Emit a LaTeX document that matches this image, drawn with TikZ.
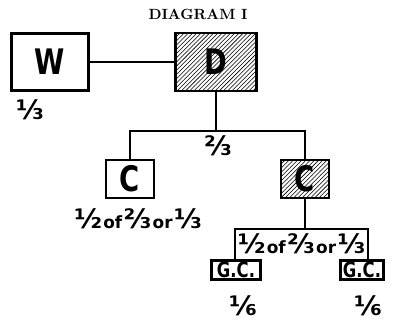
\documentclass[tikz,border=0pt]{standalone}
\usepackage{fontspec}
\setsansfont{DejaVu Sans}
\newfontfamily\narrowsans{DejaVu Sans}[FakeStretch=0.78]
\usepackage{tikz}
\usetikzlibrary{patterns, positioning, calc}
\newcommand{\fr}[1]{{\fontsize{19}{19}\selectfont #1}}
\newcommand{\fword}[1]{\hspace{1pt}{\fontsize{12}{12}\selectfont #1}\hspace{1pt}}

\begin{document}
\begin{tikzpicture}[x=0.025cm, y=-0.025cm,
  box/.style={rectangle, draw, line width=2pt, inner sep=0pt, font=\narrowsans\bfseries\fontsize{25}{25}\selectfont},
  hatched/.style={box, pattern=north east lines},
  frac/.style={inner sep=0pt, font=\sffamily\bfseries\fontsize{19}{19}\selectfont},
  gc/.style={box, minimum height=0.475cm, font=\narrowsans\bfseries\fontsize{15}{15}\selectfont},
  link/.style={line width=1.2pt}
]
  \useasboundingbox (0,0) rectangle (399,327);
  \node[font=\bfseries\fontsize{10.5}{10.5}\selectfont] (title) at (198,14) {DIAGRAM I};

  \node[box, minimum width=1.925cm, minimum height=1.425cm] (wife) at (50,62) {W};
  \node[hatched, minimum width=2.025cm, minimum height=1.45cm] (dec) at (216,62) {D};
  \node[frac] (wfrac) at (30,110) {⅓};

  \node[box, minimum width=1.2cm, minimum height=0.95cm] (child) at (130,179) {C};
  \node[hatched, minimum width=1.2cm, minimum height=0.95cm] (dchild) at (305,179) {C};
  \node[frac] (cfrac) at (218,146) {⅔};
  \node[frac] (childfrac) at (138,219) {\fr{½}\fword{of}\fr{⅔}\fword{or}\fr{⅓}};

  \node[frac, minimum width=3.325cm, minimum height=0.75cm] (split) at (301.5,244) {\fr{½}\fword{of}\fr{⅔}\fword{or}\fr{⅓}};
  \node[gc, minimum width=1.225cm, anchor=north] (gc1) at (236,259) {G.C.};
  \node[gc, minimum width=1.075cm, anchor=north] (gc2) at (362,259) {G.C.};
  \node[frac] (gfrac1) at (243,306) {⅙};
  \node[frac] (gfrac2) at (368,306) {⅙};

  \coordinate (fork) at (216,131);

  \draw[link] (wife) -- (dec);
  \draw[link] (dec.south) -- (fork);
  \draw[link] (child.north) |- (fork) -| (dchild.north);
  \draw[link] (dchild.south) -- (dchild.south |- split.north);
  \draw[link] (split.south west) |- (split.north east) -- (split.south east);
\end{tikzpicture}
\end{document}
